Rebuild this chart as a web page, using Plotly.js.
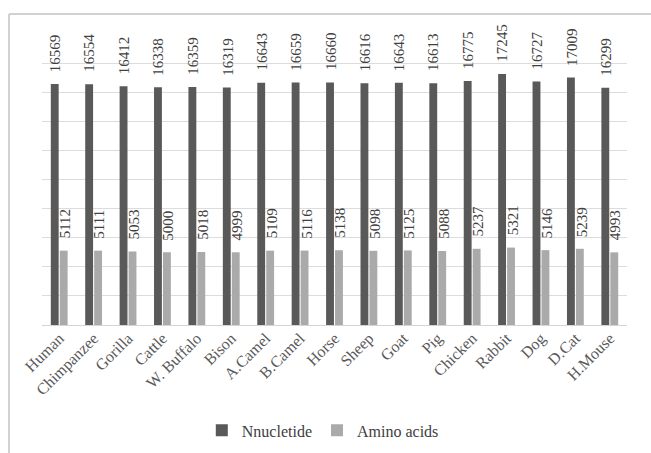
<!DOCTYPE html>
<html>
<head>
<meta charset="utf-8">
<script src="https://cdn.plot.ly/plotly-3.0.1.min.js"></script>
<style>html,body{margin:0;padding:0;background:#fff;}#chart{width:651px;height:453px;}</style>
</head>
<body>
<div id="chart"></div>
<script>
const categories = ["Human","Chimpanzee","Gorilla","Cattle","W. Buffalo","Bison","A.Camel","B.Camel","Horse","Sheep","Goat","Pig","Chicken","Rabbit","Dog","D.Cat","H.Mouse"];
const nucleotide = [16569,16554,16412,16338,16359,16319,16643,16659,16660,16616,16643,16613,16775,17245,16727,17009,16299];
const aminoAcids = [5112,5111,5053,5000,5018,4999,5109,5116,5138,5098,5125,5088,5237,5321,5146,5239,4993];
const seriesNames = ["Nnucletide","Amino acids"];

const serif = "Liberation Serif, Times New Roman, serif";
const traces = [
  {type:"bar", name:seriesNames[0], x:categories, y:nucleotide, marker:{color:"#595959"}},
  {type:"bar", name:seriesNames[1], x:categories, y:aminoAcids, marker:{color:"#aaaaaa"}}
];

const annotations = [];
[nucleotide, aminoAcids].forEach((vals, si) => {
  vals.forEach((v, i) => {
    annotations.push({
      x: categories[i], y: v, xref:"x", yref:"y",
      text: String(v), showarrow:false, textangle:-90,
      xanchor:"center", yanchor:"bottom",
      xshift: si === 0 ? -4 : 6, yshift: 10,
      font:{family:serif, size:15, color:"#404040"}
    });
  });
});

const layout = {
  width:651, height:453,
  margin:{l:42, r:24, t:34, b:128, autoexpand:false},
  paper_bgcolor:"#fff", plot_bgcolor:"#fff",
  barmode:"group", bargap:0.48, bargroupgap:0.12,
  showlegend:true,
  legend:{orientation:"h", xref:"paper", x:0.48, xanchor:"center", yref:"container", y:0.05, yanchor:"middle",
          font:{family:serif, size:16, color:"#404040"}, itemwidth:30, tracegroupgap:0},
  xaxis:{tickangle:-45, tickfont:{family:serif, size:16, color:"#595959"},
         showline:false, ticks:"", showgrid:false, automargin:false},
  yaxis:{range:[0,20000], dtick:2000, showticklabels:false, showgrid:true,
         gridcolor:"#dcdcdc", zeroline:true, zerolinecolor:"#d4d4d4", ticks:"", automargin:false},
  annotations: annotations,
  shapes:[
    {type:"line", xref:"paper", yref:"paper", x0:-0.0564, x1:1.05, y0:1.0687, y1:1.0687, line:{color:"#c3c3c3", width:1.5}},
    {type:"line", xref:"paper", yref:"paper", x0:-0.0564, x1:-0.0564, y0:1.0687, y1:-0.46, line:{color:"#c3c3c3", width:1.5}}
  ]
};
Plotly.newPlot("chart", traces, layout, {staticPlot:true, displayModeBar:false});
</script>
</body>
</html>
